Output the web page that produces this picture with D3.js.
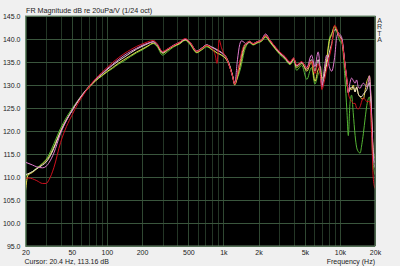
<!DOCTYPE html>
<html><head><meta charset="utf-8">
<script src="https://cdn.jsdelivr.net/npm/d3@7"></script>
<style>
html,body{margin:0;padding:0;background:#f0f0f0;}
svg{display:block;font-family:"Liberation Sans",Arial,sans-serif;}
</style></head>
<body><svg id="c" width="400" height="266"></svg>
<script>
const freqs = [20,21,23,25,28,30,32,35,40,45,
 50,56,63,71,80,90,100,112,125,140,
 160,180,200,225,250,270,300,330,370,420,
 470,520,590,650,720,790,850,880,920,960,
 1000,1060,1130,1200,1250,1320,1380,1430,1500,1580,
 1670,1800,1950,2130,2300,2500,2770,3050,3380,3730,
 4000,4250,4700,5200,5700,6100,6500,6800,7000,7300,
 7700,8100,8500,9000,9400,9700,10000,10400,11000,11500,
 11800,12200,12600,13000,13500,13900,14400,14900,15400,15900,
 16500,17000,17500,17900,18400,18800,19300,20000];

const redDb = [109.6,109.8,109.6,109.2,108.6,108.6,109.5,112,117.5,121,
 123.4,125.8,127.9,129.8,131.4,132.7,133.8,134.9,135.9,136.8,
 137.7,138.4,138.9,139.4,139.7,139,137.3,137.8,138.5,139.3,
 140.1,139.2,137.3,137.9,138.6,138,136.5,134.7,139.8,138.2,
 137,135.9,134,131.8,130.2,132.5,135,137,138.6,139.1,
 139.5,139,139.4,139.8,140.8,139.8,138.4,137.2,136.2,135,
 135.9,134.4,135.1,133.6,135.2,132.5,134.6,132,129,130.5,
 133.5,136,138.5,143,142.2,141,140.3,139.5,134.8,131,
 128.3,127,126.5,126,126,125,124.8,125.3,126.5,127.2,
 126.8,126.4,126.4,126.5,124,118,110,107.5];

const pinkDb = [113.2,113,112.6,112.2,112,112.3,113.2,115.2,119.5,122.3,
 124.3,126.4,128.2,129.8,131.2,132.4,133.5,134.5,135.5,136.4,
 137.3,138,138.6,139.1,139.4,138.8,137.2,137.8,138.6,139.3,
 140,139.2,137.4,138,138.7,138.2,137.8,137.5,137.3,137,
 136.6,135.8,134,131.8,130.2,135.5,138.8,139.6,139.3,138.9,
 139.4,139,139.4,139.9,141.1,139.8,138.3,137,136,134.8,
 135.8,134.2,135,133.8,136.5,134,137.2,133,129.5,133,
 136.5,134,133,136,140.5,141.3,141,140.2,135,131,
 128.3,130.5,131.5,131,130.4,131.1,129.5,129.3,130,130.4,
 130,129.6,130.5,132,128,122,115,112];

const yellowDb = [107,110.4,111,111.8,112.8,113.6,114.5,116.5,120,122.5,
 124.4,126.3,128.1,129.6,130.9,132,132.9,133.8,134.7,135.5,
 136.4,137.2,137.8,138.5,139.1,138.5,136.9,137.5,138.4,139,
 139.8,138.9,137.1,137.7,138.5,137.8,137.3,137,136.8,136.5,
 136.2,135.5,134,131.8,130,131.8,133.8,135.5,137.8,138.8,
 139.3,138.8,139.2,139.6,140.5,139.5,138,136.8,135.8,134.6,
 135.6,133.8,134.7,133,135,130.8,133.3,134,131.5,132,
 135.5,139.5,141,142.8,142,141,140.5,139.5,134.8,130.5,
 128.5,129.5,128.9,130,128.5,129.6,128,127.5,127,127,
 129,130.7,131.5,132,128,122,116,114];

const greenDb = [110.2,110.5,111.2,112,113,113.8,115,117.2,120.6,123,
 124.8,126.6,128.3,129.8,131,131.9,132.8,133.6,134.5,135.2,
 136.2,137,137.6,138.4,139,138.3,136.5,137.2,138.2,138.9,
 139.7,138.7,137,137.6,138.3,137.7,137.2,136.9,136.7,136.5,
 136.2,135.6,134.2,132,130.2,131.5,133,134.5,137,138.6,
 139.2,138.7,139.1,139.5,140.4,139.3,137.9,136.6,135.6,134.4,
 135.4,133.2,134.3,131.2,133.8,130.2,132.3,133,131,132.5,
 135.5,140,141.2,142.5,141.5,140.5,139.5,139,132,124,
 119,126,127.8,124,119,116.5,115.5,115.2,117,119.5,
 123,125.5,127,127.4,124,118,113,110.5];

const whiteDb = [110.5,110.7,111.2,111.8,112.6,113.2,114.2,116.2,119.8,122.4,
 124.4,126.4,128.2,129.8,131.2,132.3,133.3,134.3,135.2,136,
 137,137.8,138.4,139,139.4,138.8,137.1,137.7,138.5,139.2,
 139.9,139.1,137.3,138,138.7,138.3,137.9,137.7,137.4,137.1,
 136.8,136,134.3,132,130.3,132.5,134.8,136.5,138.4,139.1,
 139.5,139,139.4,139.8,140.8,139.7,138.3,137,136,134.8,
 135.8,134.2,134.9,133.4,135.5,133,135.5,132.5,130,131.5,
 134.5,137,139,142,142,141,140.5,139.7,134.8,130.5,
 128.3,129,129.5,129.5,128.5,129.5,128,127.5,127.5,128,
 128.5,129,130,130.5,127,121,115,113];

const seriesNames = ["green","yellow","white","pink","red"];
const seriesColors = ["#55b535","#e6d84a","#eedfd2","#e27bd0","#d0101e"];
const seriesValues = [greenDb, yellowDb, whiteDb, pinkDb, redDb];

const yTickValues = [95,100,105,110,115,120,125,130,135,140,145];
const yTickLabels = ["95.0","100.0","105.0","110.0","115.0","120.0","125.0","130.0","135.0","140.0","145.0"];
const xTickValues = [20,50,100,200,500,1000,2000,5000,10000,20000];
const xTickLabels = ["20","50","100","200","500","1k","2k","5k","10k","20k"];

const titleText = "FR Magnitude dB re 20uPa/V (1/24 oct)";
const cursorText = "Cursor: 20.4 Hz, 113.16 dB";
const xAxisTitle = "Frequency (Hz)";
const brandLetters = ["A","R","T","A"];

const svg = d3.select("#c");
const L = 25.5, R = 375, T = 16, B = 246;
const x = d3.scaleLog().domain([20,20000]).range([L,R]);
const y = d3.scaleLinear().domain([95,145]).range([B,T]);

svg.append("rect").attr("x",L).attr("y",T).attr("width",R-L).attr("height",B-T).attr("fill","#000");

// grid
const g = svg.append("g");
x.ticks().forEach(f=>{
  const major = xTickValues.includes(f);
  g.append("line").attr("x1",Math.round(x(f))+0.5).attr("x2",Math.round(x(f))+0.5)
   .attr("y1",T).attr("y2",B).attr("stroke",major?"#304832":"#243626").attr("stroke-width",1);
});
yTickValues.forEach(v=>{
  g.append("line").attr("x1",L).attr("x2",R).attr("y1",Math.round(y(v))+0.5).attr("y2",Math.round(y(v))+0.5)
   .attr("stroke","#3a563d").attr("stroke-width",1);
});

// curves
svg.append("clipPath").attr("id","pc").append("rect").attr("x",L).attr("y",T).attr("width",R-L).attr("height",B-T);
const line = d3.line().x((d,i)=>x(freqs[i])).y(d=>y(d)).curve(d3.curveMonotoneX);
seriesValues.forEach((vals,k)=>{
  svg.append("path").attr("clip-path","url(#pc)").attr("d",line(vals)).attr("fill","none")
    .attr("stroke",seriesColors[k]).attr("stroke-width",1);
});

// frame
svg.append("rect").attr("x",L).attr("y",T).attr("width",R-L).attr("height",B-T)
  .attr("fill","none").attr("stroke","#6c8a6e").attr("stroke-width",1);

// axes
const ya = svg.append("g").attr("transform",`translate(${L-2},0)`)
  .call(d3.axisLeft(y).tickValues(yTickValues).tickFormat((d,i)=>yTickLabels[i]).tickSize(0));
ya.select(".domain").remove();
ya.selectAll("text").attr("font-size",7).attr("fill","#222").attr("font-family","Liberation Sans, Arial, sans-serif");

const xa = svg.append("g").attr("transform",`translate(0,${B+1})`)
  .call(d3.axisBottom(x).tickValues(xTickValues).tickFormat((d,i)=>xTickLabels[i]).tickSize(0));
xa.select(".domain").remove();
xa.selectAll("text").attr("font-size",7).attr("fill","#222").attr("font-family","Liberation Sans, Arial, sans-serif");

svg.append("text").attr("x",L+0.5).attr("y",13).attr("font-size",7.2).attr("fill","#222").text(titleText);
svg.append("text").attr("x",L-1).attr("y",263.5).attr("font-size",7).attr("fill","#222").text(cursorText);
svg.append("text").attr("x",R).attr("y",263.5).attr("text-anchor","end").attr("font-size",7).attr("fill","#222").text(xAxisTitle);
brandLetters.forEach((c,i)=>{
  svg.append("text").attr("x",379.5).attr("y",23+i*6.3).attr("text-anchor","middle").attr("font-size",7).attr("fill","#333").text(c);
});
</script></body></html>
